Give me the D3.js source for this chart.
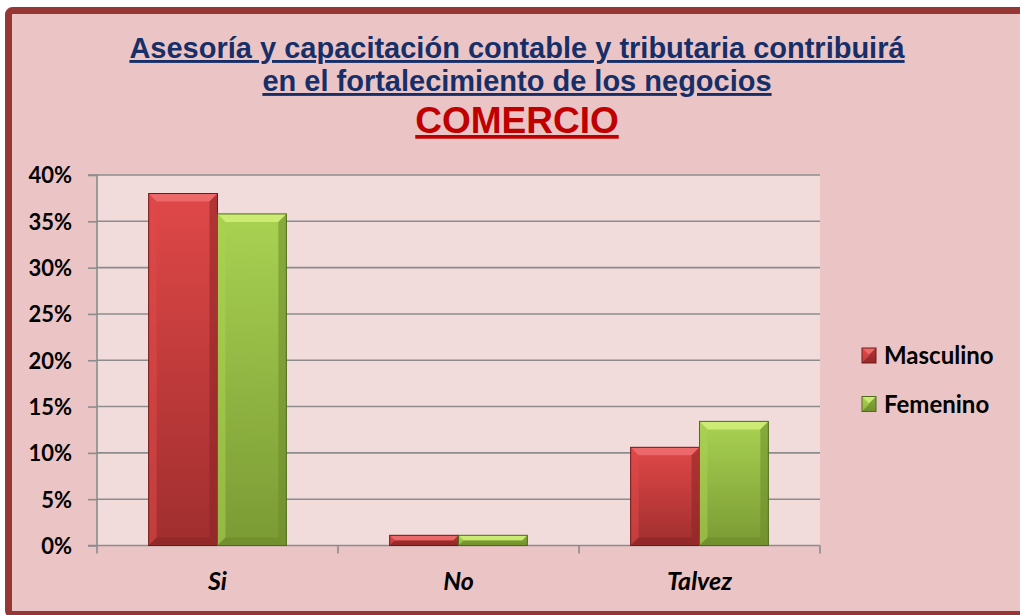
<!DOCTYPE html>
<html><head><meta charset="utf-8">
<script src="https://cdn.jsdelivr.net/npm/d3@7"></script>
<style>html,body{margin:0;padding:0;background:#fff;overflow:hidden;}svg{display:block;}</style>
</head><body>
<svg id="c" width="1020" height="615"></svg>
<script>
const categories = ["Si", "No", "Talvez"];
const seriesNames = ["Masculino", "Femenino"];
const masculino = [0.380, 0.011, 0.106];
const femenino = [0.358, 0.011, 0.134];
const yTicks = [0, 0.05, 0.10, 0.15, 0.20, 0.25, 0.30, 0.35, 0.40];
const titleLines = ["Asesoría y capacitación contable y tributaria contribuirá", "en el fortalecimiento de los negocios"];
const subtitle = "COMERCIO";

const svg = d3.select("#c");
const W = 1020, H = 615;
const colors = {
  Masculino: {top:"#e04848", mid:"#c83c3c", bot:"#a02e2e", light:"#f07070", dark:"#8a2424", edge:"#6e1a1a"},
  Femenino: {top:"#a9d252", mid:"#98c048", bot:"#7a9a34", light:"#d2f07a", dark:"#6c8a2a", edge:"#4e6a1a"}
};
const labelFont = "Lato, 'Open Sans', sans-serif";

// outer background + frame (right edge runs off the page)
svg.append("rect").attr("x",0).attr("y",0).attr("width",W).attr("height",H).attr("fill","#ffffff");
svg.append("rect").attr("x",8.5).attr("y",10.5).attr("width",1100).attr("height",604)
  .attr("rx",4).attr("fill","#ebc5c5").attr("stroke","#953735").attr("stroke-width",7);

const m = {left:97, right:820, top:175, bottom:545.5};
const slot = (m.right - m.left) / categories.length;
const xs = d3.scaleBand().domain(categories).range([m.left, m.right]).padding(0);
const x1 = d3.scaleBand().domain(seriesNames).range([0, slot * 2/3.5]).padding(0);
const y = d3.scaleLinear().domain([0, 0.40]).range([m.bottom, m.top]);

// plot area
svg.append("rect").attr("x",m.left).attr("y",m.top).attr("width",m.right-m.left).attr("height",m.bottom-m.top).attr("fill","#f2dcdb");

// gridlines
svg.append("g").selectAll("line").data(yTicks.slice(1)).join("line")
  .attr("x1",m.left).attr("x2",m.right).attr("y1",d=>y(d)).attr("y2",d=>y(d))
  .attr("stroke","#8c8c8c").attr("stroke-width",1.6);

// y axis
const yAxis = d3.axisLeft(y).tickValues(yTicks).tickFormat(d3.format(".0%")).tickSize(9).tickPadding(16);
const gy = svg.append("g").attr("transform",`translate(${m.left},0)`).call(yAxis);
gy.select(".domain").attr("stroke","#8c8c8c").attr("stroke-width",1.6).attr("d",`M-9,${m.top}H0V${m.bottom}H-9`);
gy.selectAll(".tick line").attr("stroke","#8c8c8c").attr("stroke-width",1.6);
gy.selectAll(".tick text").attr("font-family",labelFont).attr("font-weight","bold")
  .attr("font-size","22px").attr("fill","#000").attr("dy","0.36em");

// x axis
const xAxis = d3.axisBottom(xs).tickSize(0).tickPadding(0);
const gx = svg.append("g").attr("transform",`translate(0,${m.bottom})`).call(xAxis);
gx.select(".domain").attr("stroke","#8c8c8c").attr("stroke-width",1.6).attr("d",`M${m.left},0H${m.right}`);
gx.selectAll(".tick text").attr("font-family",labelFont).attr("font-weight","bold")
  .attr("font-style","italic").attr("font-size","25px").attr("fill","#000").attr("y",44).attr("dy","0");
const bounds = categories.map(c => xs(c)).concat([m.right]);
svg.append("g").selectAll("line").data(bounds).join("line")
  .attr("x1",d=>d).attr("x2",d=>d).attr("y1",m.bottom).attr("y2",m.bottom+8)
  .attr("stroke","#8c8c8c").attr("stroke-width",1.6);

// gradients
const defs = svg.append("defs");
seriesNames.forEach(s => {
  const c = colors[s];
  const g = defs.append("linearGradient").attr("id","g"+s).attr("x1",0).attr("y1",0).attr("x2",0).attr("y2",1);
  g.append("stop").attr("offset","0%").attr("stop-color",c.top);
  g.append("stop").attr("offset","100%").attr("stop-color",c.bot);
});

function bevelBar(g, bx, by, bw, bh, s, bev) {
  const c = colors[s];
  const b = Math.min(bev, bh/2, bw/2);
  g.append("rect").attr("x",bx).attr("y",by).attr("width",bw).attr("height",bh).attr("fill",`url(#g${s})`);
  g.append("path").attr("d",`M${bx},${by}H${bx+bw}L${bx+bw-b},${by+b}H${bx+b}Z`).attr("fill",c.light).attr("opacity",0.85);
  g.append("path").attr("d",`M${bx},${by}L${bx+b},${by+b}V${by+bh-b}L${bx},${by+bh}Z`).attr("fill",c.top).attr("opacity",0.55);
  g.append("path").attr("d",`M${bx+bw},${by}L${bx+bw-b},${by+b}V${by+bh-b}L${bx+bw},${by+bh}Z`).attr("fill",c.dark).attr("opacity",0.55);
  g.append("path").attr("d",`M${bx},${by+bh}L${bx+b},${by+bh-b}H${bx+bw-b}L${bx+bw},${by+bh}Z`).attr("fill",c.dark).attr("opacity",0.6);
  g.append("rect").attr("x",bx).attr("y",by).attr("width",bw).attr("height",bh).attr("fill","none")
    .attr("stroke",c.edge).attr("stroke-width",1);
}

const data = categories.map((c,i) => ({cat:c, vals:[{s:"Masculino", v:masculino[i]}, {s:"Femenino", v:femenino[i]}]}));
const groupW = x1.range()[1];
const bars = svg.append("g");
data.forEach(d => {
  const gx0 = xs(d.cat) + (slot - groupW)/2;
  d.vals.forEach(e => {
    bevelBar(bars, gx0 + x1(e.s), y(e.v), x1.bandwidth(), y(0) - y(e.v), e.s, 8);
  });
});

// legend
const leg = svg.append("g").attr("transform","translate(862,348)");
seriesNames.forEach((s,i) => {
  const g = leg.append("g").attr("transform",`translate(0,${i*48.5})`);
  bevelBar(g, 0, 0, 14, 15, s, 7);
  g.append("text").attr("x",22).attr("y",16).text(s)
    .attr("font-family",labelFont).attr("font-weight","bold").attr("font-size","24px").attr("fill","#000");
});

// titles
const t = svg.append("g").attr("font-family","'Liberation Sans', Arial, sans-serif").attr("font-weight","bold").attr("text-anchor","middle");
titleLines.forEach((line,i) => {
  t.append("text").attr("x",517).attr("y",58 + i*33).text(line)
    .attr("font-size","29px").attr("fill","#172f68").attr("text-decoration","underline");
});
t.append("text").attr("x",517).attr("y",133).text(subtitle)
  .attr("font-size","37px").attr("fill","#c00000").attr("text-decoration","underline");
</script>
</body></html>
